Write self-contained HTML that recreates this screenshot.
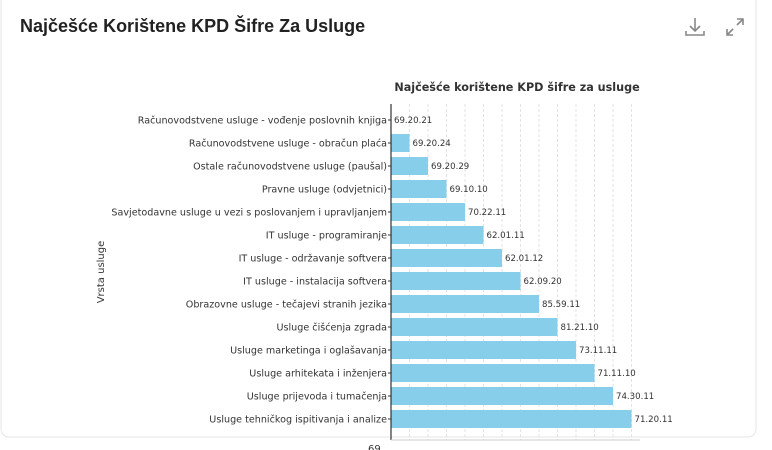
<!DOCTYPE html>
<html><head><style>
body{margin:0;background:#fff;font-family:"Liberation Sans","DejaVu Sans",sans-serif;}
</style></head><body>
<div style="position:relative;width:772px;height:450px;overflow:hidden;background:#fff">
<div style="position:absolute;left:20px;top:16px;font-size:18px;font-weight:bold;color:#222">Najčešće Korištene KPD Šifre Za Usluge</div>
<svg style="position:absolute;left:0;top:0" width="772" height="450">
<g stroke="#888" stroke-width="1.6" fill="none">
<path d="M695 18v12M690 26l5 5 5-5M686 31v4h18v-4"/>
<path d="M727 35l6-6M727 29v6h6M743 19l-6 6M743 25v-6h-6"/>
</g>
<rect x="1" y="-10" width="755" height="447" rx="8" fill="none" stroke="#e6e6e6"/>
<text x="517" y="91" text-anchor="middle" font-family="DejaVu Sans" font-weight="bold" font-size="11.2" fill="#333">Najčešće korištene KPD šifre za usluge</text>
<g stroke="#ddd" stroke-dasharray="3,2" stroke-width="0.8">
<path d="M409.5 104V440M428 104V440M446.5 104V440M465 104V440M483.5 104V440M502 104V440M520.5 104V440M539 104V440M557.5 104V440M576 104V440M594.5 104V440M613 104V440M631.5 104V440"/>
</g>
<g fill="#87ceeb" id="bars"></g>
<line x1="391" y1="104" x2="391" y2="440" stroke="#333" stroke-width="1.2"/>
<line x1="391" y1="440" x2="640" y2="440" stroke="#ccc"/>
<text x="104" y="272" transform="rotate(-90 104 272)" text-anchor="middle" font-family="DejaVu Sans" font-size="10" fill="#333">Vrsta usluge</text>
<g id="labels" font-family="DejaVu Sans" font-size="9.6" fill="#333"></g>
<text x="368" y="452" font-family="DejaVu Sans" font-size="10" fill="#333">69</text>
</svg>
<script>
var names=["Računovodstvene usluge - vođenje poslovnih knjiga","Računovodstvene usluge - obračun plaća","Ostale računovodstvene usluge (paušal)","Pravne usluge (odvjetnici)","Savjetodavne usluge u vezi s poslovanjem i upravljanjem","IT usluge - programiranje","IT usluge - održavanje softvera","IT usluge - instalacija softvera","Obrazovne usluge - tečajevi stranih jezika","Usluge čišćenja zgrada","Usluge marketinga i oglašavanja","Usluge arhitekata i inženjera","Usluge prijevoda i tumačenja","Usluge tehničkog ispitivanja i analize"];
var codes=["69.20.21","69.20.24","69.20.29","69.10.10","70.22.11","62.01.11","62.01.12","62.09.20","85.59.11","81.21.10","73.11.11","71.11.10","74.30.11","71.20.11"];
var ns="http://www.w3.org/2000/svg",b=document.getElementById("bars"),l=document.getElementById("labels");
for(var i=0;i<14;i++){var y=120+i*23.0,w=i*18.5;
var r=document.createElementNS(ns,"rect");r.setAttribute("x",391);r.setAttribute("y",y-9);r.setAttribute("width",w);r.setAttribute("height",18);b.appendChild(r);
var t=document.createElementNS(ns,"text");t.setAttribute("x",387);t.setAttribute("y",y+3.5);t.setAttribute("text-anchor","end");t.textContent=names[i];l.appendChild(t);
var tk=document.createElementNS(ns,"line");tk.setAttribute("x1",388);tk.setAttribute("x2",391);tk.setAttribute("y1",y);tk.setAttribute("y2",y);tk.setAttribute("stroke","#333");l.appendChild(tk);
var c=document.createElementNS(ns,"text");c.setAttribute("x",394+w);c.setAttribute("y",y+3);c.setAttribute("font-size","8.6");c.textContent=codes[i];l.appendChild(c);}
</script>
</div>
</body></html>
